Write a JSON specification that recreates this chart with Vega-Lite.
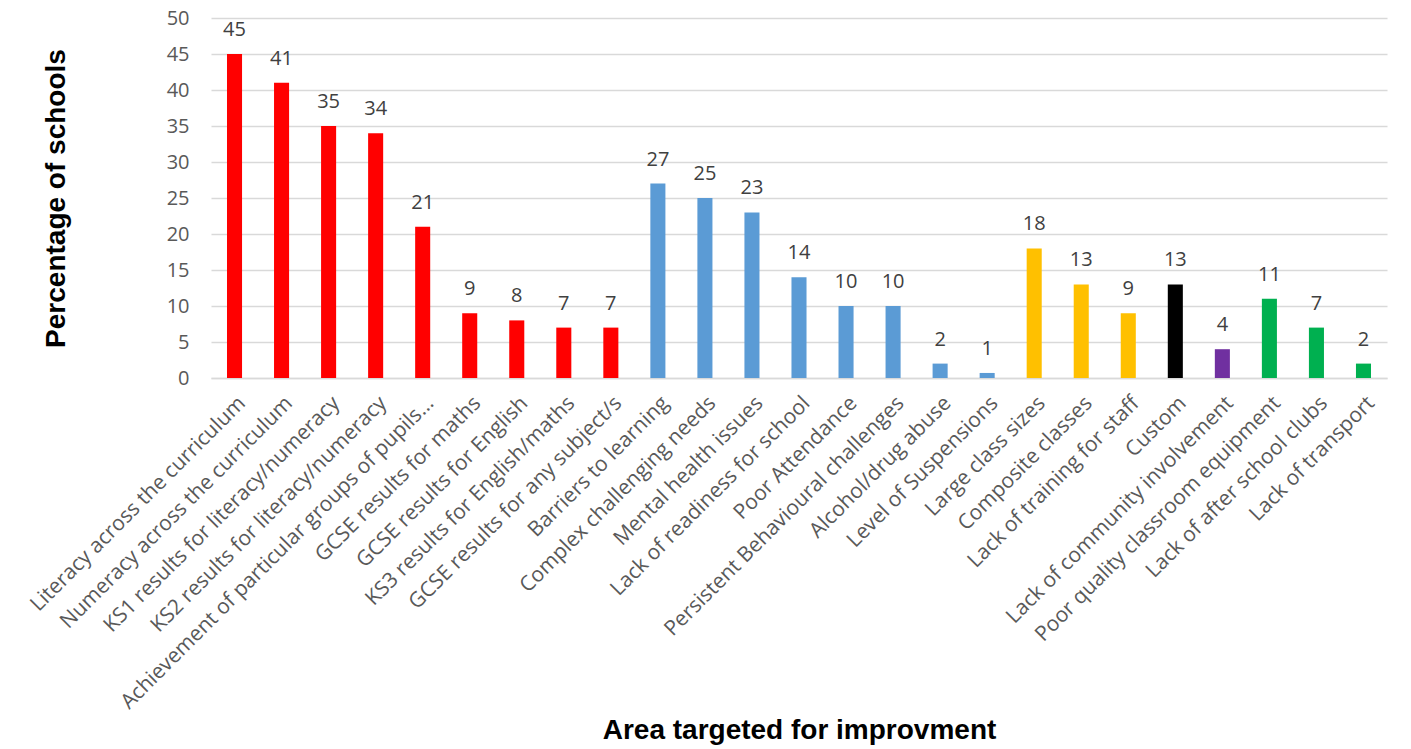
{
  "$schema": "https://vega.github.io/schema/vega-lite/v6.json",
  "width": 1176,
  "height": 360,
  "autosize": {"type": "none"},
  "padding": {"left": 211, "top": 18, "right": 24, "bottom": 371},
  "background": "white",
  "config": {"view": {"stroke": null}},
  "data": {
    "values": [
      {"area": "Literacy across the curriculum", "pct": 45, "group": "a"},
      {"area": "Numeracy across the curriculum", "pct": 41, "group": "a"},
      {"area": "KS1 results for literacy/numeracy", "pct": 35, "group": "a"},
      {"area": "KS2 results for literacy/numeracy", "pct": 34, "group": "a"},
      {"area": "Achievement of particular groups of pupils…", "pct": 21, "group": "a"},
      {"area": "GCSE results for maths", "pct": 9, "group": "a"},
      {"area": "GCSE results for English", "pct": 8, "group": "a"},
      {"area": "KS3 results for English/maths", "pct": 7, "group": "a"},
      {"area": "GCSE results for any subject/s", "pct": 7, "group": "a"},
      {"area": "Barriers to learning", "pct": 27, "group": "b"},
      {"area": "Complex challenging needs", "pct": 25, "group": "b"},
      {"area": "Mental health issues", "pct": 23, "group": "b"},
      {"area": "Lack of readiness for school", "pct": 14, "group": "b"},
      {"area": "Poor Attendance", "pct": 10, "group": "b"},
      {"area": "Persistent Behavioural challenges", "pct": 10, "group": "b"},
      {"area": "Alcohol/drug abuse", "pct": 2, "group": "b"},
      {"area": "Level of Suspensions", "pct": 0.7, "group": "b"},
      {"area": "Large class sizes", "pct": 18, "group": "c"},
      {"area": "Composite classes", "pct": 13, "group": "c"},
      {"area": "Lack of training for staff", "pct": 9, "group": "c"},
      {"area": "Custom", "pct": 13, "group": "d"},
      {"area": "Lack of community involvement", "pct": 4, "group": "e"},
      {"area": "Poor quality classroom equipment", "pct": 11, "group": "f"},
      {"area": "Lack of after school clubs", "pct": 7, "group": "f"},
      {"area": "Lack of transport", "pct": 2, "group": "f"}
    ]
  },
  "encoding": {
    "x": {
      "field": "area",
      "type": "nominal",
      "sort": null,
      "scale": {"paddingInner": 0.68, "paddingOuter": 0.34},
      "axis": {
        "title": "Area targeted for improvment",
        "titleFont": "Liberation Sans",
        "titleFontSize": 28,
        "titleFontWeight": "bold",
        "titleColor": "#000000",
        "titlePadding": 138,
        "labelAngle": -45,
        "labelFont": "Open Sans",
        "labelFontSize": 21,
        "labelColor": "#595959",
        "labelPadding": 14,
        "labelLimit": 0,
        "labelOverlap": false,
        "ticks": false,
        "domainColor": "#D9D9D9",
        "domainWidth": 1.5
      }
    },
    "y": {
      "field": "pct",
      "type": "quantitative",
      "scale": {"domain": [0, 50]},
      "axis": {
        "title": "Percentage of schools",
        "titleFont": "Liberation Sans",
        "titleFontSize": 28,
        "titleFontWeight": "bold",
        "titleColor": "#000000",
        "titlePadding": 96,
        "values": [0, 5, 10, 15, 20, 25, 30, 35, 40, 45, 50],
        "labelFont": "Open Sans",
        "labelFontSize": 20,
        "labelColor": "#595959",
        "labelPadding": 22,
        "ticks": false,
        "domain": false,
        "gridColor": "#D9D9D9",
        "gridWidth": 1.5
      }
    }
  },
  "layer": [
    {
      "mark": {"type": "bar"},
      "encoding": {
        "color": {
          "field": "group",
          "type": "nominal",
          "scale": {
            "domain": ["a", "b", "c", "d", "e", "f"],
            "range": ["#FF0000", "#5B9BD5", "#FFC000", "#000000", "#7030A0", "#00B050"]
          },
          "legend": null
        }
      }
    },
    {
      "mark": {"type": "text", "baseline": "bottom", "dy": -14, "font": "Open Sans", "fontSize": 20, "color": "#404040"},
      "encoding": {
        "text": {"field": "pct", "type": "quantitative", "format": ".0f"}
      }
    }
  ]
}
